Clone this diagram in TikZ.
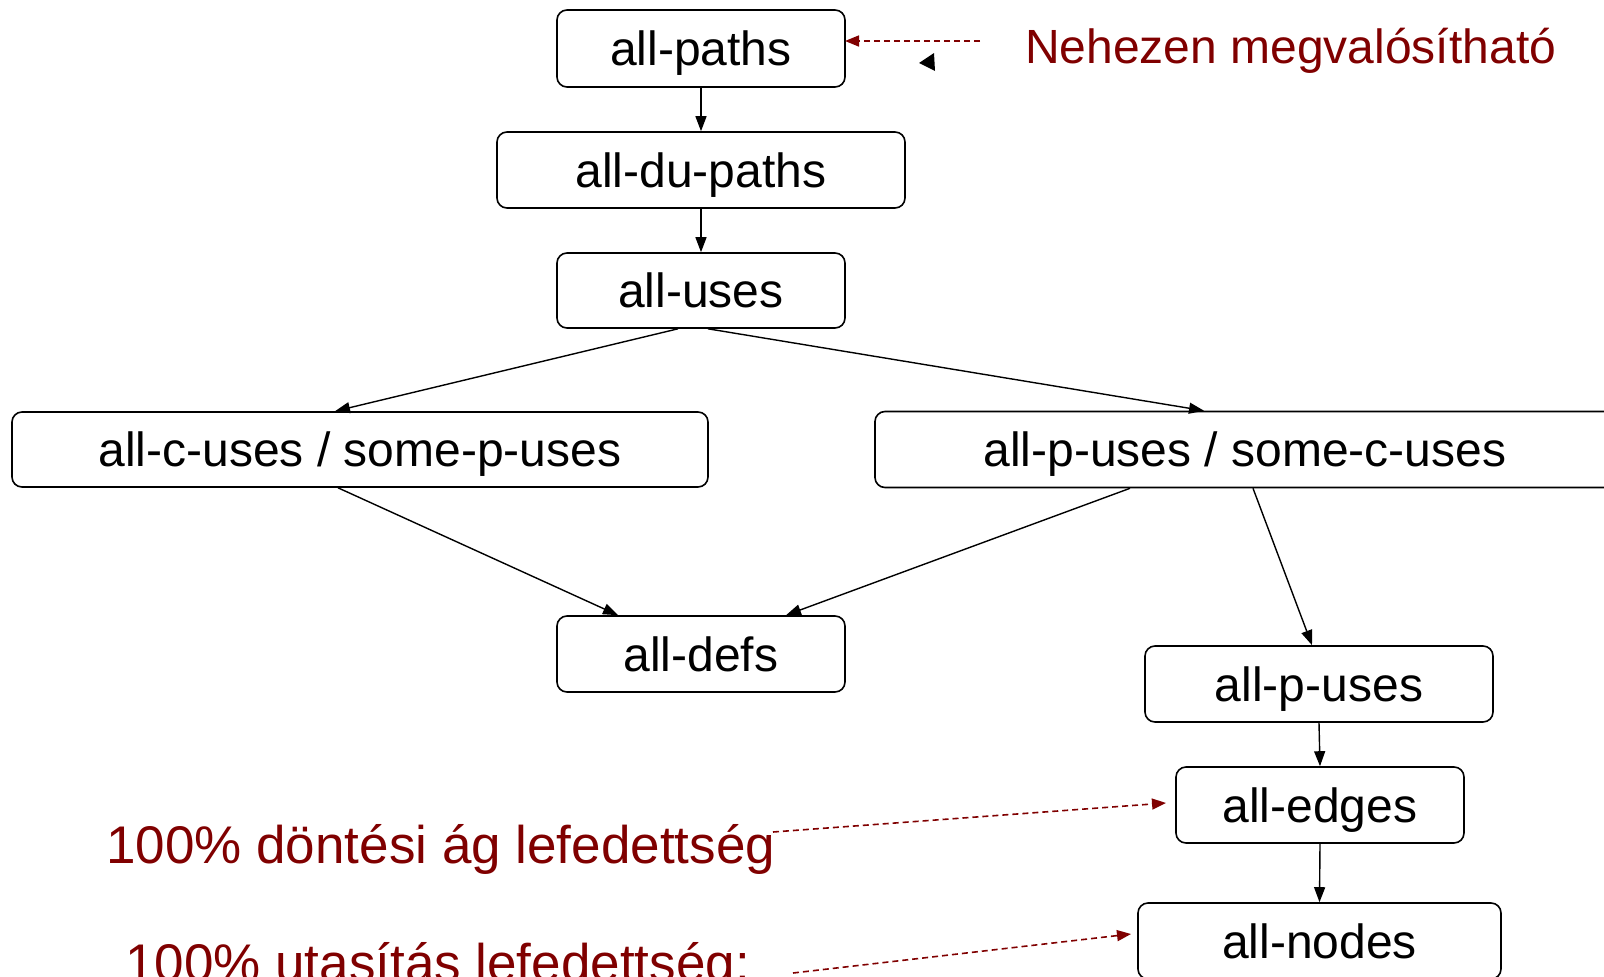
\documentclass[tikz,border=0pt]{standalone}
\usepackage{fontspec}
\setmainfont{Liberation Sans}
\usetikzlibrary{arrows.meta}
\definecolor{dred}{RGB}{128,0,0}
\begin{document}
\begin{tikzpicture}[x=1pt,y=-1pt,
  box/.style={draw,line width=1.6pt,rounded corners=10pt,inner sep=0pt,
    text height=41pt,text depth=7pt,font=\fontsize{48}{56}\selectfont},
  conn/.style={line width=1.4pt,-{Triangle[length=15pt,width=11pt]}},
  note/.style={text=dred,font=\fontsize{48}{56}\selectfont,inner sep=0pt,anchor=base west},
  bignote/.style={text=dred,font=\fontsize{53}{62}\selectfont,inner sep=0pt,anchor=base west},
  refline/.style={draw=dred,line width=1.6pt,dash pattern=on 6pt off 4pt,-{Triangle[length=14pt,width=11pt,fill=dred]}}]
\useasboundingbox (0,0) rectangle (1604,977);
\clip (0,0) rectangle (1604,977);
% boxes
\node[box,minimum width=288pt,minimum height=77pt] (paths) at (701,48.5) {all-paths};
\node[box,minimum width=408pt,minimum height=76pt] (dupaths) at (701,170) {all-du-paths};
\node[box,minimum width=288pt,minimum height=75pt] (uses) at (701,290.5) {all-uses};
\node[box,minimum width=696pt,minimum height=75pt] (cuses) at (360,449.5) {all-c-uses / some-p-uses};
\node[box,minimum width=740pt,minimum height=76pt] (puses) at (1245,449.5) {all-p-uses / some-c-uses};
\node[box,minimum width=288pt,minimum height=76pt] (defs) at (701,654) {all-defs};
\node[box,minimum width=348pt,minimum height=76pt] (pu) at (1319,684) {all-p-uses};
\node[box,minimum width=288pt,minimum height=76pt] (edges) at (1320,805) {all-edges};
\node[box,minimum width=363pt,minimum height=76pt] (nodes) at (1319.5,941) {all-nodes};
% connectors
\draw[conn] (paths.south) -- (dupaths.north);
\draw[conn] (dupaths.south) -- (uses.north);
\draw[conn] ([xshift=-23pt]uses.south) -- ([xshift=-25pt]cuses.north);
\draw[conn] ([xshift=7pt]uses.south) -- ([xshift=-41pt]puses.north);
\draw[conn] ([xshift=-22pt]cuses.south) -- ([xshift=-83pt]defs.north);
\draw[conn] ([xshift=-115pt]puses.south) -- ([xshift=85pt]defs.north);
\draw[conn] ([xshift=8pt]puses.south) -- ([xshift=-7pt]pu.north);
\draw[conn] (pu.south) -- (edges.north);
\draw[conn] (edges.south) -- (nodes.north);
% notes
\node[note] (hard) at (1025,63) {Nehezen megvalósítható};
\node[bignote] (dec) at (106,863) {100\% döntési ág lefedettség};
\node[bignote] (stm) at (125,981) {100\% utasítás lefedettség:};
\coordinate (hardS) at (980,41);
\coordinate (hardE) at (845,41);
\coordinate (decS) at (773,832);
\coordinate (decE) at (1166,803);
\coordinate (stmS) at (793,973);
\coordinate (stmE) at (1131,934);
\draw[refline] (hardS) -- (hardE);
\draw[refline] (decS) -- (decE);
\draw[refline] (stmS) -- (stmE);
% stray arrowhead
\fill (919,63) -- (934,53) -- (935,71) -- cycle;
\end{tikzpicture}
\end{document}
